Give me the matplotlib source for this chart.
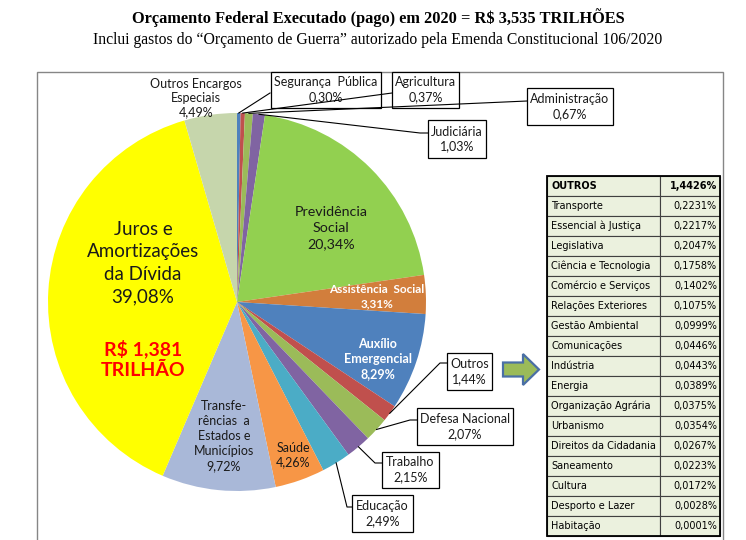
import matplotlib
matplotlib.use('Agg')
import numpy as np
import matplotlib.pyplot as plt
from matplotlib.patches import Rectangle, Polygon

W, H = 746, 540

# fatias, sentido horario a partir do topo
categorias = ['Segurança  Pública', 'Agricultura', 'Administração', 'Judiciária',
              'Previdência\nSocial', 'Assistência  Social', 'Auxílio\nEmergencial',
              'Outros', 'Defesa Nacional', 'Trabalho', 'Educação', 'Saúde',
              'Transfe-\nrências  a\nEstados e\nMunicípios',
              'Juros e\nAmortizações\nda Dívida', 'Outros Encargos\nEspeciais']
percentuais = [0.30, 0.37, 0.67, 1.03, 20.34, 3.31, 8.29, 1.44, 2.07, 2.15,
               2.49, 4.26, 9.72, 39.08, 4.49]
cores = ['#4F81BD', '#C0504D', '#9BBB59', '#8064A2', '#92D050', '#D27E3C',
         '#4F81BD', '#C0504D', '#9BBB59', '#8064A2', '#4BACC6', '#F79646',
         '#A9B8D8', '#FFFF00', '#C6D6AC']

juros_valor = 'R$ 1,381\nTRILHÃO'

# detalhamento de "Outros"
outros_nomes = ['Transporte', 'Essencial à Justiça', 'Legislativa',
                'Ciência e Tecnologia', 'Comércio e Serviços',
                'Relações Exteriores', 'Gestão Ambiental', 'Comunicações',
                'Indústria', 'Energia', 'Organização Agrária', 'Urbanismo',
                'Direitos da Cidadania', 'Saneamento', 'Cultura',
                'Desporto e Lazer', 'Habitação']
outros_valores = [0.2231, 0.2217, 0.2047, 0.1758, 0.1402, 0.1075, 0.0999,
                  0.0446, 0.0443, 0.0389, 0.0375, 0.0354, 0.0267, 0.0223,
                  0.0172, 0.0028, 0.0001]
outros_total = 1.4426

titulo = 'Orçamento Federal Executado (pago) em 2020 = R$ 3,535 TRILHÕES'
subtitulo = 'Inclui gastos do \u201cOrçamento de Guerra\u201d autorizado pela Emenda Constitucional 106/2020'


def Y(py):
    # pixel (de cima) -> coordenada do eixo
    return H - py


def pct(v, casas=2):
    return ('{:.%df}%%' % casas).format(v).replace('.', ',')


fonte = 'Lato'
fig = plt.figure(figsize=(W / 100, H / 100), dpi=100)
ax = fig.add_axes([0, 0, 1, 1])

cx, cy, r = 237, 302, 189
wedges, _ = ax.pie(percentuais, colors=cores, startangle=90, counterclock=False,
                   center=(cx, Y(cy)), radius=r, frame=True,
                   wedgeprops=dict(linewidth=0))
ax.set_xlim(0, W)
ax.set_ylim(0, H)
ax.set_aspect('equal')
ax.axis('off')

# moldura do grafico
ax.add_patch(Rectangle((37, Y(560)), 686, 488, fill=False, ec='#868686', lw=1))

# titulos
ax.text(378, Y(18), titulo, ha='center', va='center', fontsize=11.8,
        fontweight='bold', family='Liberation Serif')
ax.text(378, Y(40), subtitulo, ha='center', va='center', fontsize=11.3,
        family='Liberation Serif')

# rotulos dentro da pizza: indice -> (x, y, tamanho, cor, peso, espacamento)
internos = {
    4: (331, 228, 10.3, '#1a1a1a', 'normal', 1.38),
    5: (377, 297, 8.5, 'white', 'bold', 1.35),
    6: (378, 359, 9, 'white', 'bold', 1.3),
    11: (293, 455, 9, '#1a1a1a', 'normal', 1.3),
    12: (224, 436, 9, '#1a1a1a', 'normal', 1.3),
    13: (143, 263, 13.5, '#1a1a1a', 'normal', 1.38),
    14: (196, 98, 9, '#1a1a1a', 'normal', 1.25),
}
for i, (x, y, fs, c, fw, ls) in internos.items():
    ax.text(x, Y(y), categorias[i] + '\n' + pct(percentuais[i]), ha='center',
            va='center', fontsize=fs, color=c, fontweight=fw, family=fonte,
            linespacing=ls, zorder=5)
ax.text(143, Y(359), juros_valor, ha='center', va='center', fontsize=14,
        color='#FF0000', fontweight='bold', family=fonte, linespacing=1.3,
        zorder=5)

# rotulos com caixa: indice -> (caixa x0, y0, x1, y1, pontos da linha ate a fatia)
caixas = {
    0: ((271, 72, 381, 108), [(270, 93)]),
    1: ((392, 72, 459, 108), [(392, 93)]),
    2: ((527, 88, 613, 125), [(527, 101)]),
    3: ((428, 120, 486, 158), [(428, 133), (420, 133)]),
    7: ((447, 353, 492, 390), [(447, 363), (440, 363)]),
    8: ((417, 408, 513, 445), [(417, 420), (410, 420)]),
    9: ((382, 452, 439, 488), [(382, 463), (375, 463)]),
    10: ((352, 495, 413, 532), [(352, 507), (347, 507)]),
}
for i, ((x0, y0, x1, y1), pts) in caixas.items():
    ax.add_patch(Rectangle((x0, Y(y1)), x1 - x0, y1 - y0, fc='white',
                           ec='black', lw=0.9, zorder=3))
    ax.text((x0 + x1) / 2, Y((y0 + y1) / 2),
            categorias[i] + '\n' + pct(percentuais[i]), ha='center',
            va='center', fontsize=9, color='#1a1a1a', family=fonte,
            linespacing=1.3, zorder=4)
    w = wedges[i]
    ang = np.deg2rad((w.theta1 + w.theta2) / 2)
    px = cx + r * np.cos(ang)
    py = Y(cy) + r * np.sin(ang)
    xs = [p[0] for p in pts] + [px]
    ys = [Y(p[1]) for p in pts] + [py]
    ax.plot(xs, ys, color='black', lw=0.8, zorder=6)

# seta para a tabela
sx0, sx1, sx2 = 503, 523, 539
sy, sh, hh = 369.5, 7, 15.5
seta = [(sx0, Y(sy - sh)), (sx1, Y(sy - sh)), (sx1, Y(sy - hh)), (sx2, Y(sy)),
        (sx1, Y(sy + hh)), (sx1, Y(sy + sh)), (sx0, Y(sy + sh))]
ax.add_patch(Polygon(seta, closed=True, fc='#9BBB59', ec='#4A6FA5', lw=1.6,
                     zorder=3))

# tabela de "Outros"
tx0, tx1, tx2 = 547, 660, 720
ty0, rh = 176, 20
linhas = [('OUTROS', outros_total)] + list(zip(outros_nomes, outros_valores))
for k, (nome, val) in enumerate(linhas):
    top = ty0 + k * rh
    for a, b in ((tx0, tx1), (tx1, tx2)):
        ax.add_patch(Rectangle((a, Y(top + rh)), b - a, rh, fc='#EBF1DE',
                               ec='#404040', lw=0.8, zorder=3))
    fw = 'bold' if k == 0 else 'normal'
    ax.text(tx0 + 4, Y(top + rh / 2), nome, ha='left', va='center',
            fontsize=7, fontweight=fw, family='DejaVu Sans', zorder=4)
    ax.text(tx2 - 3, Y(top + rh / 2), pct(val, 4), ha='right', va='center',
            fontsize=7, fontweight=fw, family='DejaVu Sans', zorder=4)
ax.add_patch(Rectangle((tx0, Y(ty0 + rh * len(linhas))), tx2 - tx0,
                       rh * len(linhas), fill=False, ec='black', lw=1.3,
                       zorder=5))

fig.savefig('out.png', dpi=100)
